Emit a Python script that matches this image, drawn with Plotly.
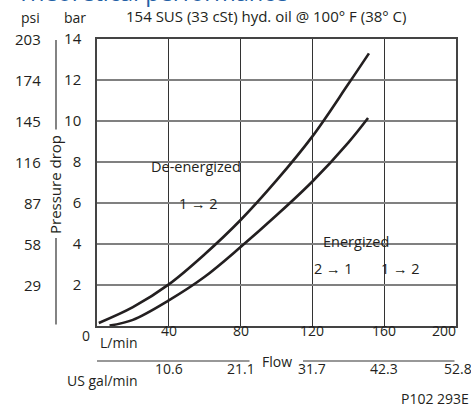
import plotly.graph_objects as go

# ---- data ----
flow_upper = [1, 20, 40, 60, 80, 100, 120, 140, 151.5]
dp_upper = [0.15, 0.92, 2.03, 3.5, 5.17, 7.1, 9.25, 11.8, 13.3]
flow_lower = [7, 20, 40, 60, 80, 100, 120, 140, 151]
dp_lower = [0.02, 0.3, 1.25, 2.4, 3.85, 5.4, 7.05, 8.95, 10.15]

bar_ticks = [2, 4, 6, 8, 10, 12, 14]
psi_labels = ["29", "58", "87", "116", "145", "174", "203"]
lpm_ticks = [40, 80, 120, 160, 200]
gpm_labels = ["10.6", "21.1", "31.7", "42.3", "52.8"]

W, H = 471, 407
L, R, T, B = 97, 456, 39, 326
FONT = "Open Sans"
TXT = "#231f20"
FS = 14
X_RANGE = [0, 200]


def px(x):
    return (x - L) / (R - L)


def py(y):
    return (B - y) / (B - T)


fig = go.Figure()
for fx, fy in [(flow_upper, dp_upper), (flow_lower, dp_lower)]:
    fig.add_trace(go.Scatter(x=fx, y=fy, mode="lines",
                             line=dict(color="#231f20", width=2.6, shape="spline", smoothing=1.0),
                             hoverinfo="skip", showlegend=False))

# white boxes masking the grid behind the in-plot labels (between grid and traces)
shapes = []
for x0, x1, y0, y1 in [(133, 257, 155, 177), (172, 225, 195, 211), (310, 423, 228, 280)]:
    shapes.append(dict(type="rect", xref="paper", yref="paper", x0=px(x0), x1=px(x1),
                       y0=py(y1), y1=py(y0), fillcolor="white", line=dict(width=0),
                       layer="between"))

ann = []
# rule segments ("Pressure drop" and "Flow" axis lines)
for (hx, hy), (ax, ay) in [((56, 40), (0, 91)), ((56, 238), (0, 88)),
                           ((97, 361), (154, 0)), ((303, 361), (153, 0))]:
    ann.append(dict(text="", xref="paper", yref="paper", x=px(hx), y=py(hy), ax=ax, ay=ay,
                    showarrow=True, arrowhead=0, arrowwidth=1.2, arrowcolor="#333333",
                    standoff=0, startstandoff=0))


def text(t, x, y, size=FS, xanchor="center", yanchor="middle", color=TXT, angle=0):
    ann.append(dict(text=t, xref="paper", yref="paper", x=px(x), y=py(y), showarrow=False,
                    xanchor=xanchor, yanchor=yanchor, textangle=angle,
                    font=dict(family=FONT, size=size, color=color)))


text("Theoretical performance", 15, 10.4, size=23.5, xanchor="left", yanchor="bottom", color="#2360a5")
text("psi", 30, 18)
text("bar", 75, 18)
text("154 SUS (33 cSt) hyd. oil @ 100° F (38° C)", 266, 16, size=15)
text("Pressure drop", 55, 185, angle=-90, size=15)
text("0", 86, 335)
text("L/min", 119, 342)
text("Flow", 277, 361)
text("US gal/min", 102, 380)
text("P102 293E", 471, 398, xanchor="right")
text("De-energized", 196, 166, size=14.5)
text("1 → 2", 198, 203, size=14.5)
text("Energized", 356, 241, size=14.5)
text("2 → 1", 333, 268, size=14.5)
text("1 → 2", 400, 268, size=14.5)

for v, p in zip(bar_ticks, psi_labels):
    ann.append(dict(text=p, xref="paper", yref="y", x=px(43), y=v, showarrow=False,
                    xanchor="right", font=dict(family=FONT, size=FS + 1, color=TXT)))

for i, (v, g) in enumerate(zip(lpm_ticks, gpm_labels)):
    last = i == len(lpm_ticks) - 1
    ann.append(dict(text=str(v), xref="x", yref="paper", x=v, y=py(342), showarrow=False,
                    xshift=-12 if last else 0, font=dict(family=FONT, size=FS, color=TXT)))
    ann.append(dict(text=g, xref="x", yref="paper", x=v, y=py(380), showarrow=False,
                    xshift=2 if last else 0, font=dict(family=FONT, size=FS, color=TXT)))

fig.update_layout(
    width=W, height=H, margin=dict(l=L, r=W - R, t=T, b=H - B, autoexpand=False),
    paper_bgcolor="white", plot_bgcolor="white", shapes=shapes, annotations=ann,
    xaxis=dict(range=X_RANGE, tickvals=lpm_ticks, showticklabels=False, showgrid=True,
               gridcolor="#333333", gridwidth=1.2, zeroline=False, showline=True, mirror=True,
               linecolor="#444444", linewidth=1.5, ticks=""),
    yaxis=dict(range=[0, 14], tickmode="array", tickvals=bar_ticks,
               ticktext=[str(v) for v in bar_ticks],
               showgrid=True, gridcolor="#808080", gridwidth=1.6, zeroline=False,
               showline=True, mirror=True, linecolor="#444444", linewidth=1.5,
               ticks="outside", ticklen=11, tickcolor="rgba(0,0,0,0)",
               tickfont=dict(family=FONT, size=FS + 1, color=TXT)),
)
fig.write_html("out.html", config={"displayModeBar": False},
               post_script="document.body.style.margin='0';document.body.style.overflow='hidden';")
